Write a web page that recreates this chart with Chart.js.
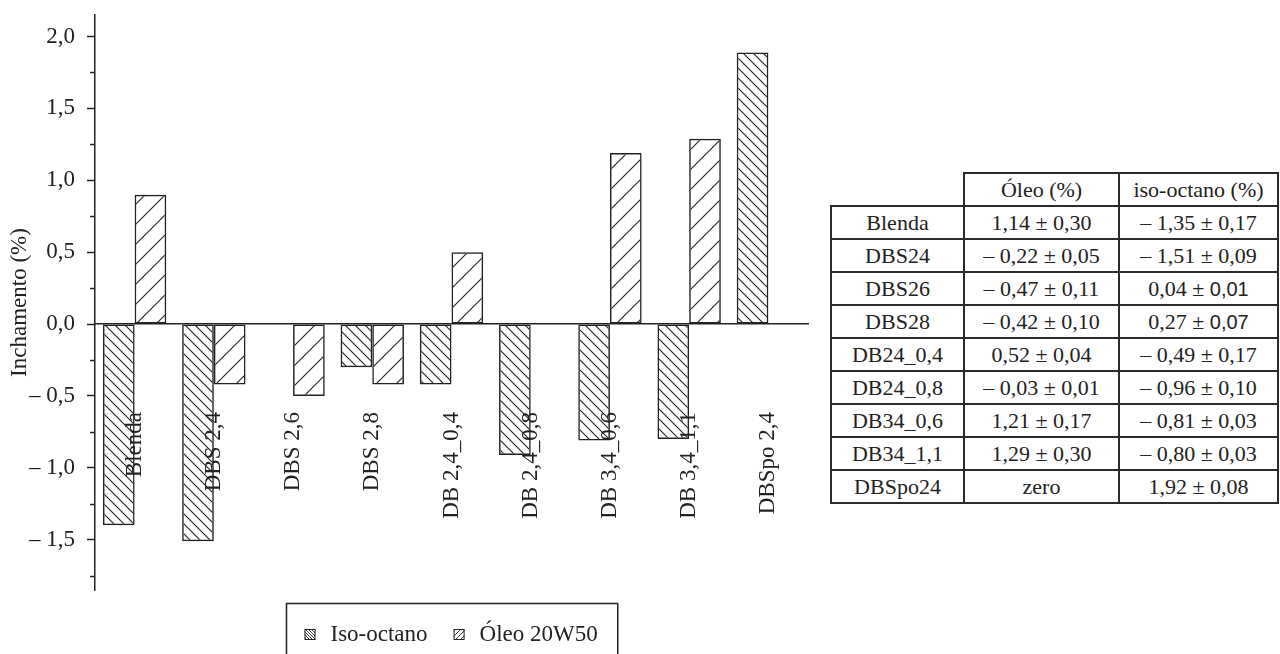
<!DOCTYPE html>
<html lang="pt">
<head>
<meta charset="utf-8">
<title>Inchamento</title>
<script src="https://cdn.jsdelivr.net/npm/chart.js@4.4.1/dist/chart.umd.min.js"></script>
<style>
  html, body { margin: 0; padding: 0; background: #fff; }
  body { width: 1280px; height: 654px; position: relative; overflow: hidden;
         font-family: 'Liberation Serif', 'Times New Roman', serif; color: #222; }
  #wrap { position: absolute; left: 0; top: 0; width: 812px; height: 654px; }
  #tbl { position: absolute; left: 830px; top: 172px; border-collapse: collapse;
         font-size: 22px; line-height: 1; }
  #tbl td { border: 2px solid #2b2b2b; padding: 0; text-align: center; vertical-align: middle; }
  #tbl tr { height: 33px; }
  #tbl td.blank { border-top: none; border-left: none; }
  #tbl .s { font-family: 'Liberation Sans', Arial, sans-serif; font-size: 20px; }
</style>
</head>
<body>
<div id="wrap"><canvas id="c"></canvas></div>
<table id="tbl">
  <colgroup><col style="width:133px"><col style="width:155px"><col style="width:159px"></colgroup>
  <tbody id="tbody"></tbody>
</table>
<script>
// Bar chart values (swelling, %)
const categories = ['Blenda', 'DBS 2,4', 'DBS 2,6', 'DBS 2,8', 'DB 2,4_0,4',
                    'DB 2,4_0,8', 'DB 3,4_0,6', 'DB 3,4_1,1', 'DBSpo 2,4'];
const isoOctano = [-1.40, -1.51, null, -0.30, -0.42, -0.91, -0.81, -0.80, 1.89];
const oleo20W50 = [0.90, -0.42, -0.50, -0.42, 0.50, null, 1.19, 1.29, null];

// Y axis ticks
const yMajorTicks  = [-1.5, -1.0, -0.5, 0, 0.5, 1.0, 1.5, 2.0];
const yMajorLabels = ['– 1,5', '– 1,0', '– 0,5', '0,0', '0,5', '1,0', '1,5', '2,0'];
const yMinorTicks  = [-1.75, -1.25, -0.75, -0.25, 0.25, 0.75, 1.25, 1.75];

// Side table
const tableHeader = ['', 'Óleo (%)', 'iso-octano (%)'];
const tableRows   = ['Blenda', 'DBS24', 'DBS26', 'DBS28', 'DB24_0,4', 'DB24_0,8', 'DB34_0,6', 'DB34_1,1', 'DBSpo24'];
const tableOleo   = ['1,14 ± 0,30', '– 0,22 ± 0,05', '– 0,47 ± 0,11', '– 0,42 ± 0,10', '0,52 ± 0,04',
                     '– 0,03 ± 0,01', '1,21 ± 0,17', '1,29 ± 0,30', 'zero'];
const tableIso    = ['– 1,35 ± 0,17', '– 1,51 ± 0,09', '0,04 ± |0,01', '0,27 ± |0,07', '– 0,49 ± 0,17',
                     '– 0,96 ± 0,10', '– 0,81 ± 0,03', '– 0,80 ± 0,03', '1,92 ± 0,08'];

// build the table
(function () {
  const tb = document.getElementById('tbody');
  const fill = (td, txt) => {
    const parts = txt.split('|');
    td.appendChild(document.createTextNode(parts[0]));
    if (parts[1]) { const sp = document.createElement('span'); sp.className = 's'; sp.textContent = parts[1]; td.appendChild(sp); }
  };
  const hr = document.createElement('tr');
  tableHeader.forEach((h, i) => { const td = document.createElement('td'); if (i === 0) td.className = 'blank'; fill(td, h); hr.appendChild(td); });
  tb.appendChild(hr);
  tableRows.forEach((r, i) => {
    const tr = document.createElement('tr');
    [r, tableOleo[i], tableIso[i]].forEach(t => { const td = document.createElement('td'); fill(td, t); tr.appendChild(td); });
    tb.appendChild(tr);
  });
})();

const INK = '#222';
const FONT = "'Liberation Serif', 'Times New Roman', serif";

// diagonal hatch patterns: 'back' = "\" lines, 'fwd' = "/" lines
function hatch(size, dir, lw) {
  const c = document.createElement('canvas');
  c.width = c.height = size;
  const g = c.getContext('2d');
  g.strokeStyle = INK; g.lineWidth = lw;
  g.beginPath();
  if (dir === 'back') {
    g.moveTo(-1, -1); g.lineTo(size + 1, size + 1);
    g.moveTo(-1, size - 1); g.lineTo(1, size + 1);
    g.moveTo(size - 1, -1); g.lineTo(size + 1, 1);
  } else {
    g.moveTo(-1, size + 1); g.lineTo(size + 1, -1);
    g.moveTo(-1, 1); g.lineTo(1, -1);
    g.moveTo(size - 1, size + 1); g.lineTo(size + 1, size - 1);
  }
  g.stroke();
  return g.createPattern(c, 'repeat');
}

const isoFill = hatch(10, 'back', 1.1);
const oleoFill = hatch(20, 'fwd', 1.1);
const legendFills = [hatch(3, 'back', 0.9), hatch(5, 'fwd', 0.9)];

// minor tick marks on the value axis
const minorTicks = {
  id: 'minorTicks',
  afterDraw(chart) {
    const y = chart.scales.y, ctx = chart.ctx;
    ctx.save();
    ctx.strokeStyle = INK; ctx.lineWidth = 1.5;
    ctx.beginPath();
    yMinorTicks.forEach(v => {
      const py = Math.round(y.getPixelForValue(v)) + 0.5;
      ctx.moveTo(y.right - 5, py); ctx.lineTo(y.right, py);
    });
    ctx.stroke();
    ctx.restore();
  }
};

// boxed legend under the plot
const boxedLegend = {
  id: 'boxedLegend',
  afterDraw(chart) {
    const {ctx, chartArea} = chart;
    const ds = chart.data.datasets;
    ctx.save();
    ctx.font = '23px ' + FONT;
    const sq = 11, padL = 18, padR = 20, gapTxt = 15, gapItem = 26;
    const widths = ds.map(d => ctx.measureText(d.label).width);
    let total = padL + padR;
    widths.forEach((w, i) => { total += sq + gapTxt + w + (i ? gapItem : 0); });
    const cx = (chartArea.left + chartArea.right) / 2;
    const left = Math.round(cx - total / 2) + 0.5;
    const top = Math.round(chartArea.bottom + 13) + 0.5;
    ctx.strokeStyle = INK; ctx.lineWidth = 1.5;
    ctx.strokeRect(left, top, total, chart.height - top + 20);
    const midY = top + 31;
    let x = left + padL;
    ds.forEach((d, i) => {
      if (i) x += gapItem;
      ctx.fillStyle = legendFills[i];
      ctx.fillRect(x, midY - sq / 2, sq, sq);
      ctx.lineWidth = 1; ctx.strokeStyle = INK;
      ctx.strokeRect(x + 0.5, midY - sq / 2 + 0.5, sq - 1, sq - 1);
      x += sq + gapTxt;
      ctx.fillStyle = INK; ctx.textBaseline = 'middle'; ctx.textAlign = 'left';
      ctx.fillText(d.label, x, midY);
      x += widths[i];
    });
    ctx.restore();
  }
};

new Chart(document.getElementById('c'), {
  type: 'bar',
  data: {
    labels: categories,
    datasets: [
      { label: 'Iso-octano', data: isoOctano, backgroundColor: isoFill },
      { label: 'Óleo 20W50', data: oleo20W50, backgroundColor: oleoFill }
    ]
  },
  options: {
    responsive: true,
    maintainAspectRatio: false,
    animation: false,
    layout: { padding: { top: 15, bottom: 64, left: 0, right: 4 } },
    datasets: {
      bar: {
        borderColor: INK, borderWidth: 1.5, borderSkipped: false,
        categoryPercentage: 0.8, barPercentage: 1.0
      }
    },
    plugins: { legend: { display: false }, tooltip: { enabled: false } },
    scales: {
      x: {
        type: 'category',
        position: { y: 0 },
        offset: true,
        grid: { display: false, drawTicks: false },
        border: { display: true, color: INK, width: 1.5, z: 1 },
        ticks: {
          minRotation: 90, maxRotation: 90, autoSkip: false, padding: 88, z: 1,
          color: INK, font: { family: FONT, size: 23 }
        },
        afterFit(scale) {
          scale.height = 0;
          scale.paddingLeft = 0; scale.paddingRight = 0;
          scale.paddingTop = 0; scale.paddingBottom = 0;
        }
      },
      y: {
        min: -1.85, max: 2.15,
        afterBuildTicks(scale) { scale.ticks = yMajorTicks.map(v => ({ value: v })); },
        afterFit(scale) {
          scale.width = 95;
          scale.paddingTop = 0; scale.paddingBottom = 0;
        },
        grid: { drawOnChartArea: false, drawTicks: true, tickLength: 8, tickColor: INK, tickWidth: 1.5 },
        border: { display: true, color: INK, width: 1.5 },
        ticks: {
          padding: 12, autoSkip: false, color: INK, font: { family: FONT, size: 23 },
          callback: v => yMajorLabels[yMajorTicks.indexOf(v)]
        },
        title: {
          display: true, text: 'Inchamento (%)', color: INK,
          font: { family: FONT, size: 23 }, padding: { top: 6, bottom: 0 }
        }
      }
    }
  },
  plugins: [minorTicks, boxedLegend]
});
</script>
</body>
</html>
